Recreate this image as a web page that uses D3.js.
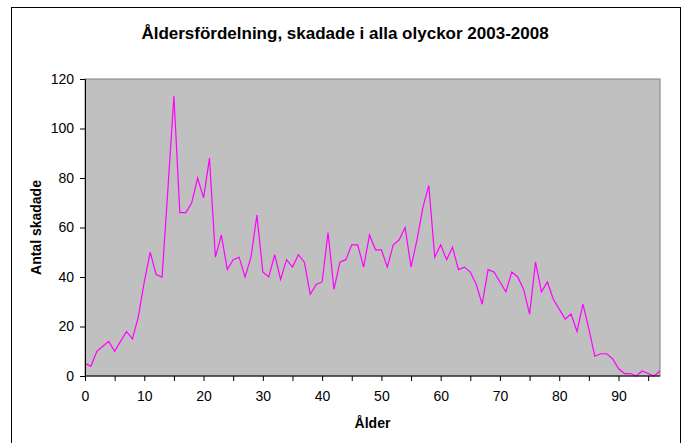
<!DOCTYPE html>
<html>
<head>
<meta charset="utf-8">
<script src="https://cdn.jsdelivr.net/npm/d3@7"></script>
<style>
  body { margin: 0; background: #ffffff; }
  svg { display: block; font-family: "Liberation Sans", Arial, sans-serif; }
</style>
</head>
<body>
<svg id="chart" width="687" height="443"></svg>
<script>
const titleText = "Åldersfördelning, skadade i alla olyckor 2003-2008";
const xLabel = "Ålder";
const yLabel = "Antal skadade";

// ages 0..97
const ages = d3.range(0, 98);
const injured = [
    5, 4, 10, 12, 14, 10, 14, 18, 15, 24,
    38, 50, 41, 40, 76, 113, 66, 66, 70, 80,
    72, 88, 48, 57, 43, 47, 48, 40, 48, 65,
    42, 40, 49, 39, 47, 44, 49, 46, 33, 37,
    38, 58, 35, 46, 47, 53, 53, 44, 57, 51,
    51, 44, 53, 55, 60, 44, 55, 68, 77, 48,
    53, 47, 52, 43, 44, 42, 37, 29, 43, 42,
    38, 34, 42, 40, 35, 25, 46, 34, 38, 31,
    27, 23, 25, 18, 29, 19, 8, 9, 9, 7,
    3, 1, 1, 0, 2, 1, 0, 2
];
const yTicks = [0, 20, 40, 60, 80, 100, 120];
const xMinorTicks = d3.range(0, 96, 5);

const margens = { left: 85, right: 27, top: 79, bottom: 67 };
const svg = d3.select("#chart");
const width = +svg.attr("width");
const height = +svg.attr("height");

// chart frame
svg.append("rect")
    .attr("x", 11.5)
    .attr("y", 7.5)
    .attr("width", 669)
    .attr("height", 440)
    .attr("fill", "#ffffff")
    .attr("stroke", "#000000")
    .attr("stroke-width", 1);

const x = d3.scaleLinear()
    .domain([0, 97])
    .range([margens.left, width - margens.right]);

const y = d3.scaleLinear()
    .domain([0, 120])
    .range([height - margens.bottom, margens.top]);

// plot area
svg.append("rect")
    .attr("x", x(0))
    .attr("y", y(120))
    .attr("width", x(97) - x(0))
    .attr("height", y(0) - y(120))
    .attr("fill", "#c0c0c0")
    .attr("stroke", "#808080")
    .attr("stroke-width", 1);

// line
const line = d3.line()
    .x((d, i) => x(ages[i]))
    .y(d => y(d));

svg.append("path")
    .datum(injured)
    .attr("fill", "none")
    .attr("stroke", "#ff00ff")
    .attr("stroke-width", 1.2)
    .attr("d", line);

// y axis
svg.append("g")
    .attr("transform", `translate(${x(0)}, 0)`)
    .call(d3.axisLeft(y).tickValues(yTicks).tickSize(5).tickPadding(6))
    .call(g => g.select(".domain").attr("stroke", "#000000"))
    .call(g => g.selectAll("text").attr("font-size", "14px").attr("fill", "#000000").attr("font-family", "Liberation Sans, Arial, sans-serif"));

// x axis: ticks every 5, labels every 10
svg.append("g")
    .attr("transform", `translate(0, ${y(0)})`)
    .call(d3.axisBottom(x).tickValues(xMinorTicks).tickSize(5).tickFormat(d => d % 10 === 0 ? d : ""))
    .call(g => g.select(".domain").attr("d", `M${x(0)},0H${x(97)}`).attr("stroke", "#000000"))
    .call(g => g.selectAll("text").attr("font-size", "14px").attr("fill", "#000000").attr("dy", "1.2em").attr("font-family", "Liberation Sans, Arial, sans-serif"));

// title
svg.append("text")
    .attr("x", 345)
    .attr("y", 39)
    .attr("text-anchor", "middle")
    .attr("font-size", "17px")
    .attr("font-weight", "bold")
    .text(titleText);

// axis labels
svg.append("text")
    .attr("x", (x(0) + x(97)) / 2)
    .attr("y", 428)
    .attr("text-anchor", "middle")
    .attr("font-size", "14px")
    .attr("font-weight", "bold")
    .text(xLabel);

svg.append("text")
    .attr("transform", `translate(41, ${(y(0) + y(120)) / 2}) rotate(-90)`)
    .attr("text-anchor", "middle")
    .attr("font-size", "14px")
    .attr("font-weight", "bold")
    .text(yLabel);
</script>
</body>
</html>
